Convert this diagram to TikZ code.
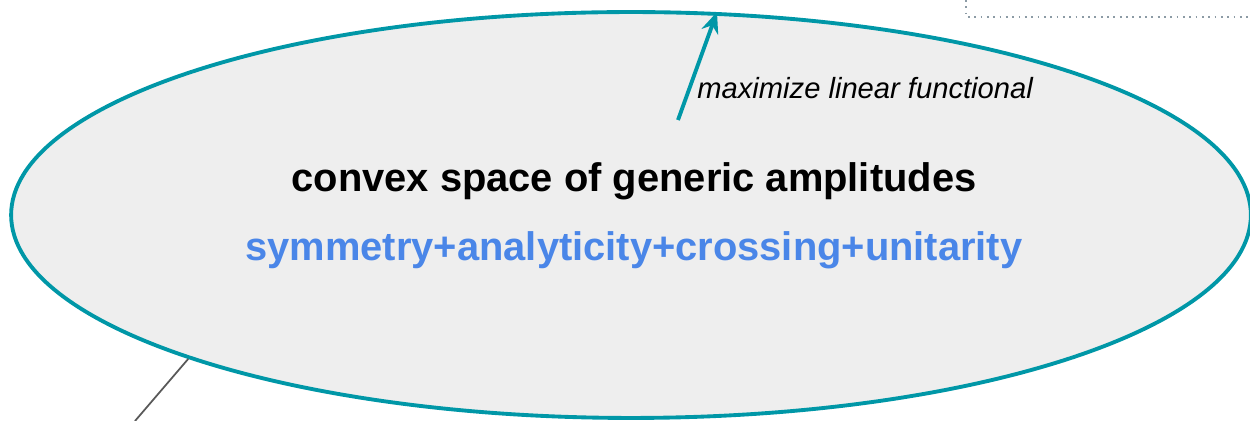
\documentclass[tikz,border=0pt]{standalone}
\usepackage{fontspec}
\setmainfont{Liberation Sans}
\usetikzlibrary{shapes.geometric,arrows.meta,positioning}
\definecolor{tealline}{HTML}{0097A7}
\definecolor{spacefill}{HTML}{EEEEEE}
\definecolor{constrblue}{HTML}{4A86E8}
\definecolor{dotgrey}{HTML}{8C9BA5}
\tikzset{
  spacebox/.style={ellipse, draw=tealline, fill=spacefill, line width=2.2pt, minimum width=24.8cm, minimum height=8.12cm, inner sep=0pt},
  titletext/.style={font=\fontsize{22.7}{26}\selectfont\bfseries, text=black},
  constrtext/.style={font=\fontsize{22.7}{26}\selectfont\bfseries, text=constrblue},
  labeltext/.style={font=\fontsize{16.6}{19}\selectfont\itshape, anchor=west, inner sep=0pt}
}
\begin{document}
\begin{tikzpicture}[x=0.02cm, y=-0.02cm]
  \useasboundingbox (0,0) rectangle (1250,421);
  % dotted frame corner at top right
  \draw[dotgrey, line width=1pt, dash pattern=on 1pt off 2.6pt] (966,0) -- (966,17) -- (1252,17);
  % the convex space
  \node[spacebox] (space) at (631,215) {};
  \node[titletext] (title) at (634,181) {convex space of generic amplitudes};
  \node[constrtext] (constr) at (634,250) {symmetry+analyticity+crossing+unitarity};
  \node[labeltext] (label) at (697,88) {maximize linear functional};
  \coordinate (tail) at (678,120);
  \coordinate (head) at (717,12);
  \draw[tealline, line width=2.2pt, -{Stealth[length=12pt, width=10pt, inset=4pt]}] (tail) -- (head);
  % outgoing line
  \coordinate (exit) at (135,421);
  \draw[black!65, line width=1pt] (space.198.5) -- (exit);
\end{tikzpicture}
\end{document}
